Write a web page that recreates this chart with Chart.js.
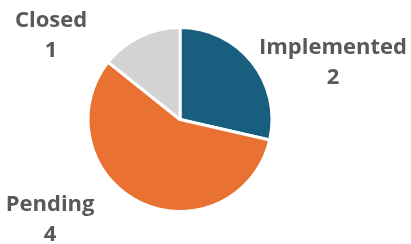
<!DOCTYPE html>
<html>
<head>
<meta charset="utf-8">
<script src="https://cdn.jsdelivr.net/npm/chart.js@4"></script>
<style>
  html, body { margin: 0; padding: 0; background: #fff; }
  #wrap { width: 411px; height: 244px; }
</style>
</head>
<body>
<div id="wrap"><canvas id="pieChart" width="411" height="244"></canvas></div>
<script>
const statusLabels = ['Implemented', 'Pending', 'Closed'];
const statusCounts = [2, 4, 1];
const sliceColors = ['#175e7f', '#e97132', '#d3d3d3'];

// label nudges from each slice's outer mid point (dx, dy)
const labelNudge = [[81, 7], [-90, 24], [-89, 5]];

const sliceLabels = {
    id: 'sliceLabels',
    afterDatasetsDraw(chart) {
        const ctx = chart.ctx;
        const meta = chart.getDatasetMeta(0);
        ctx.save();
        ctx.font = 'bold 22px "Open Sans", sans-serif';
        ctx.fillStyle = '#595959';
        ctx.textAlign = 'center';
        ctx.textBaseline = 'alphabetic';
        meta.data.forEach((arc, i) => {
            const p = arc.getProps(['x', 'y', 'startAngle', 'endAngle', 'outerRadius'], true);
            const mid = (p.startAngle + p.endAngle) / 2;
            const x = p.x + Math.cos(mid) * p.outerRadius + labelNudge[i][0];
            const y = p.y + Math.sin(mid) * p.outerRadius + labelNudge[i][1];
            ctx.fillText(statusLabels[i], x, y - 15);
            ctx.fillText(String(statusCounts[i]), x, y + 15);
        });
        ctx.restore();
    }
};

const canvasElement = document.getElementById('pieChart');
const pieChart = new Chart(canvasElement.getContext('2d'), {
    type: 'pie',
    data: {
        labels: statusLabels,
        datasets: [{
            data: statusCounts,
            backgroundColor: sliceColors,
            borderColor: '#ffffff',
            borderWidth: 3
        }]
    },
    options: {
        responsive: false,
        animation: false,
        layout: { padding: { left: 86, right: 137, top: 26, bottom: 31 } },
        plugins: {
            legend: { display: false },
            tooltip: { enabled: false }
        }
    },
    plugins: [sliceLabels]
});
</script>
</body>
</html>
